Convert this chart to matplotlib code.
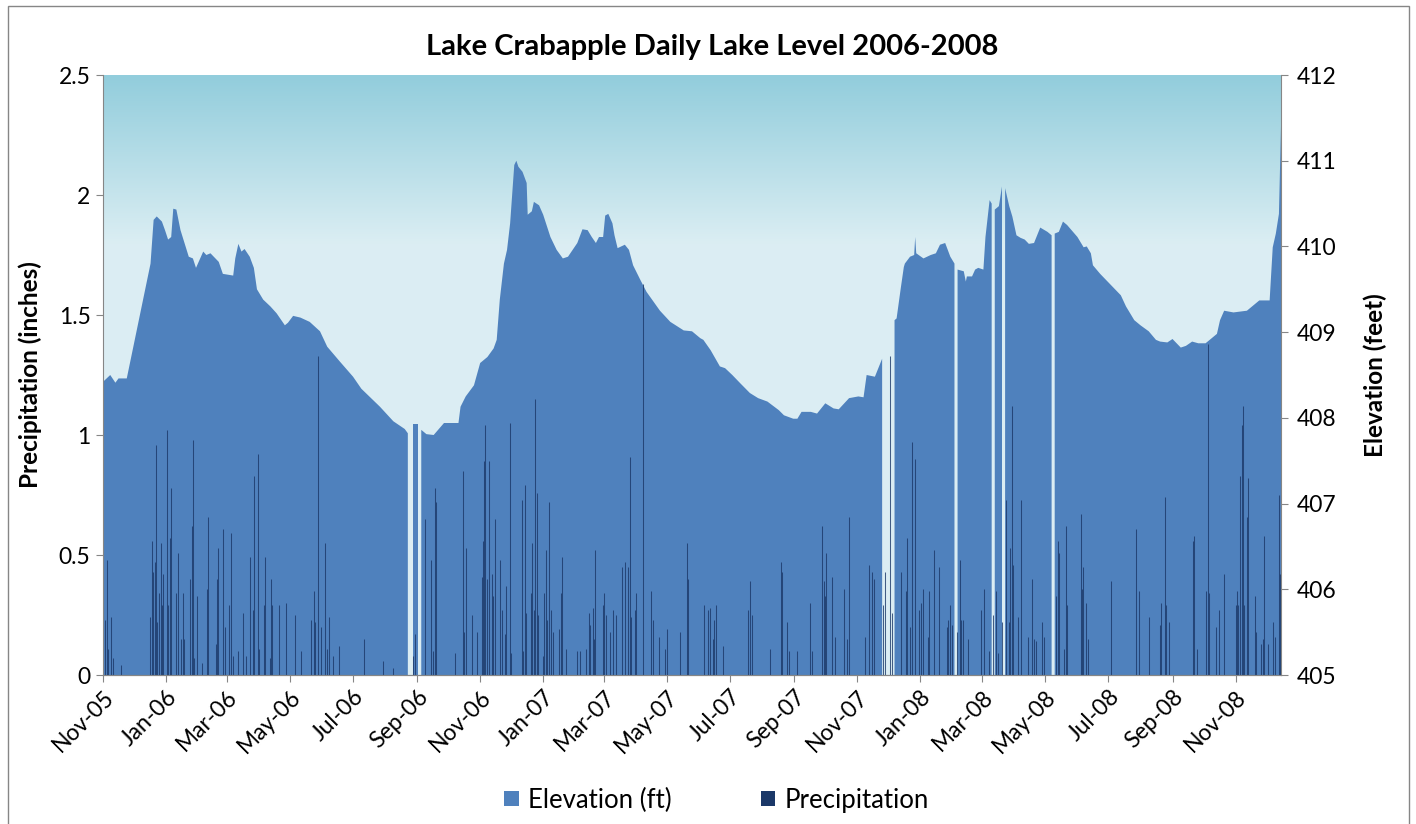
import numpy as np
import pandas as pd
import matplotlib
matplotlib.use("Agg")
import matplotlib.pyplot as plt
import matplotlib.dates as mdates
from matplotlib.patches import Patch, Rectangle
from matplotlib.ticker import FuncFormatter

plt.rcParams['font.family'] = ['Lato', 'DejaVu Sans']

nan = np.nan

# --- Elevation (ft); nan = missing day ---
elev_dates = [
    '2005-11-01', '2005-11-08', '2005-11-13', '2005-11-16', '2005-11-24', '2005-12-17',
    '2005-12-20', '2005-12-23', '2005-12-28', '2005-12-31', '2006-01-03', '2006-01-06',
    '2006-01-08', '2006-01-11', '2006-01-15', '2006-01-23', '2006-01-27', '2006-01-30',
    '2006-02-06', '2006-02-09', '2006-02-13', '2006-02-21', '2006-02-25', '2006-03-07',
    '2006-03-09', '2006-03-12', '2006-03-15', '2006-03-18', '2006-03-23', '2006-03-27',
    '2006-03-30', '2006-04-05', '2006-04-12', '2006-04-18', '2006-04-26', '2006-04-29',
    '2006-05-04', '2006-05-11', '2006-05-20', '2006-05-30', '2006-06-06', '2006-06-18',
    '2006-07-01', '2006-07-09', '2006-07-27', '2006-08-09', '2006-08-20', '2006-08-23',
    '2006-08-24', '2006-08-28', '2006-09-02', '2006-09-03', '2006-09-05', '2006-09-10',
    '2006-09-17', '2006-09-27', '2006-10-11', '2006-10-13', '2006-10-18', '2006-10-26',
    '2006-11-01', '2006-11-08', '2006-11-14', '2006-11-17', '2006-11-20', '2006-11-24',
    '2006-11-27', '2006-11-30', '2006-12-04', '2006-12-06', '2006-12-08', '2006-12-12',
    '2006-12-16', '2006-12-17', '2006-12-21', '2006-12-23', '2006-12-28', '2007-01-01',
    '2007-01-08', '2007-01-14', '2007-01-20', '2007-01-25', '2007-02-03', '2007-02-08',
    '2007-02-13', '2007-02-17', '2007-02-21', '2007-02-24', '2007-02-28', '2007-03-02',
    '2007-03-05', '2007-03-09', '2007-03-11', '2007-03-14', '2007-03-21', '2007-03-25',
    '2007-03-29', '2007-04-05', '2007-04-11', '2007-04-24', '2007-05-04', '2007-05-17',
    '2007-05-25', '2007-06-02', '2007-06-05', '2007-06-12', '2007-06-21', '2007-06-26',
    '2007-07-03', '2007-07-11', '2007-07-20', '2007-07-28', '2007-08-06', '2007-08-17',
    '2007-08-22', '2007-08-31', '2007-09-04', '2007-09-08', '2007-09-17', '2007-09-23',
    '2007-10-01', '2007-10-09', '2007-10-14', '2007-10-24', '2007-11-02', '2007-11-07',
    '2007-11-10', '2007-11-18', '2007-11-25', '2007-11-26', '2007-12-07', '2007-12-09',
    '2007-12-13', '2007-12-16', '2007-12-17', '2007-12-22', '2007-12-26', '2007-12-27',
    '2007-12-28', '2008-01-04', '2008-01-11', '2008-01-16', '2008-01-20', '2008-01-25',
    '2008-01-30', '2008-02-03', '2008-02-04', '2008-02-06', '2008-02-12', '2008-02-14',
    '2008-02-15', '2008-02-20', '2008-02-23', '2008-02-26', '2008-03-02', '2008-03-04',
    '2008-03-08', '2008-03-10', '2008-03-11', '2008-03-13', '2008-03-17', '2008-03-20',
    '2008-03-21', '2008-03-23', '2008-03-27', '2008-03-30', '2008-04-03', '2008-04-07',
    '2008-04-11', '2008-04-15', '2008-04-20', '2008-04-26', '2008-05-03', '2008-05-07',
    '2008-05-08', '2008-05-10', '2008-05-14', '2008-05-18', '2008-05-22', '2008-06-01',
    '2008-06-07', '2008-06-10', '2008-06-14', '2008-06-16', '2008-06-23', '2008-07-05',
    '2008-07-13', '2008-07-18', '2008-07-26', '2008-08-01', '2008-08-09', '2008-08-16',
    '2008-08-20', '2008-08-27', '2008-09-01', '2008-09-09', '2008-09-14', '2008-09-20',
    '2008-09-26', '2008-10-03', '2008-10-09', '2008-10-14', '2008-10-17', '2008-10-21',
    '2008-10-30', '2008-11-12', '2008-11-24', '2008-12-04', '2008-12-07', '2008-12-10',
    '2008-12-13', '2008-12-15',
]
elev_ft = [
    408.42, 408.50, 408.41, 408.46, 408.46, 409.80,
    410.31, 410.35, 410.29, 410.19, 410.08, 410.11,
    410.44, 410.43, 410.19, 409.88, 409.86, 409.75,
    409.94, 409.90, 409.92, 409.82, 409.68, 409.66,
    409.86, 410.03, 409.94, 409.97, 409.88, 409.75,
    409.50, 409.38, 409.30, 409.22, 409.08, 409.11,
    409.19, 409.17, 409.12, 409.01, 408.83, 408.66,
    408.48, 408.34, 408.13, 407.96, 407.87, 407.82,
    nan, 407.93, 407.93, nan, 407.86, 407.81,
    407.80, 407.94, 407.94, 408.13, 408.25, 408.38,
    408.64, 408.71, 408.81, 408.91, 409.38, 409.80,
    409.96, 410.27, 410.95, 411.00, 410.93, 410.87,
    410.74, 410.37, 410.41, 410.52, 410.48, 410.37,
    410.11, 409.96, 409.86, 409.88, 410.04, 410.20,
    410.19, 410.11, 410.04, 410.11, 410.11, 410.36,
    410.38, 410.27, 410.13, 409.98, 410.02, 409.96,
    409.78, 409.61, 409.47, 409.25, 409.12, 409.02,
    409.01, 408.93, 408.91, 408.79, 408.60, 408.58,
    408.50, 408.40, 408.29, 408.23, 408.19, 408.09,
    408.03, 407.99, 407.99, 408.07, 408.07, 408.05,
    408.17, 408.11, 408.10, 408.23, 408.25, 408.24,
    408.50, 408.48, 408.69, nan, 409.14, 409.16,
    409.51, 409.76, 409.80, 409.88, 409.90, 410.11,
    409.92, 409.86, 409.90, 409.92, 410.02, 410.04,
    409.88, 409.80, nan, 409.73, 409.71, 409.59,
    409.65, 409.65, 409.73, 409.75, 409.73, 410.11,
    410.54, 410.50, nan, 410.43, 410.47, 410.70,
    nan, 410.68, 410.47, 410.35, 410.13, 410.10,
    410.08, 410.03, 410.04, 410.22, 410.17, 410.13,
    nan, 410.15, 410.17, 410.29, 410.25, 410.11,
    409.99, 410.00, 409.92, 409.78, 409.68, 409.53,
    409.43, 409.30, 409.14, 409.08, 409.01, 408.91,
    408.89, 408.88, 408.92, 408.82, 408.84, 408.89,
    408.87, 408.87, 408.93, 408.98, 409.14, 409.25,
    409.23, 409.25, 409.37, 409.37, 409.99, 410.15,
    410.38, 411.40,
]

# --- Daily precipitation (inches), visible bars ---
precip_dates = [
    '2005-11-03', '2005-11-05', '2005-11-06', '2005-11-09', '2005-11-11', '2005-11-18', '2005-12-16', '2005-12-18',
    '2005-12-19', '2005-12-21', '2005-12-22', '2005-12-23', '2005-12-25', '2005-12-27', '2005-12-28', '2005-12-29',
    '2006-01-02', '2006-01-03', '2006-01-05', '2006-01-06', '2006-01-11', '2006-01-13', '2006-01-15', '2006-01-17',
    '2006-01-18', '2006-01-24', '2006-01-26', '2006-01-27', '2006-01-28', '2006-01-31', '2006-02-05', '2006-02-10',
    '2006-02-11', '2006-02-18', '2006-02-19', '2006-02-20', '2006-02-25', '2006-02-27', '2006-03-03', '2006-03-05',
    '2006-03-07', '2006-03-12', '2006-03-16', '2006-03-19', '2006-03-23', '2006-03-26', '2006-03-27', '2006-03-31',
    '2006-04-01', '2006-04-06', '2006-04-07', '2006-04-12', '2006-04-13', '2006-04-14', '2006-04-20', '2006-04-27',
    '2006-05-06', '2006-05-12', '2006-05-21', '2006-05-24', '2006-05-25', '2006-05-28', '2006-05-31', '2006-06-04',
    '2006-06-06', '2006-06-08', '2006-06-12', '2006-06-17', '2006-07-12', '2006-07-30', '2006-08-09', '2006-08-28',
    '2006-08-30', '2006-09-09', '2006-09-14', '2006-09-16', '2006-09-18', '2006-09-19', '2006-10-08', '2006-10-15',
    '2006-10-16', '2006-10-18', '2006-10-24', '2006-10-29', '2006-11-03', '2006-11-04', '2006-11-05', '2006-11-06',
    '2006-11-08', '2006-11-10', '2006-11-12', '2006-11-13', '2006-11-15', '2006-11-20', '2006-11-22', '2006-11-25',
    '2006-11-26', '2006-11-30', '2006-12-01', '2006-12-11', '2006-12-12', '2006-12-14', '2006-12-15', '2006-12-20',
    '2006-12-21', '2006-12-23', '2006-12-24', '2006-12-26', '2006-12-27', '2007-01-01', '2007-01-02', '2007-01-04',
    '2007-01-05', '2007-01-07', '2007-01-09', '2007-01-10', '2007-01-16', '2007-01-18', '2007-01-19', '2007-01-23',
    '2007-02-03', '2007-02-06', '2007-02-11', '2007-02-14', '2007-02-15', '2007-02-18', '2007-02-19', '2007-02-20',
    '2007-02-28', '2007-03-01', '2007-03-03', '2007-03-07', '2007-03-10', '2007-03-12', '2007-03-18', '2007-03-21',
    '2007-03-24', '2007-03-26', '2007-03-27', '2007-03-31', '2007-04-01', '2007-04-08', '2007-04-15', '2007-04-17',
    '2007-04-23', '2007-04-29', '2007-05-01', '2007-05-13', '2007-05-20', '2007-05-21', '2007-06-06', '2007-06-09',
    '2007-06-11', '2007-06-14', '2007-06-15', '2007-06-17', '2007-06-24', '2007-07-18', '2007-07-20', '2007-07-22',
    '2007-08-08', '2007-08-19', '2007-08-20', '2007-08-25', '2007-08-27', '2007-09-04', '2007-09-16', '2007-09-18',
    '2007-09-28', '2007-09-30', '2007-10-01', '2007-10-02', '2007-10-07', '2007-10-10', '2007-10-19', '2007-10-22',
    '2007-10-24', '2007-11-08', '2007-11-12', '2007-11-15', '2007-11-17', '2007-11-26', '2007-11-28', '2007-12-03',
    '2007-12-05', '2007-12-13', '2007-12-18', '2007-12-19', '2007-12-22', '2007-12-24', '2007-12-27', '2007-12-31',
    '2008-01-02', '2008-01-04', '2008-01-08', '2008-01-09', '2008-01-14', '2008-01-19', '2008-01-27', '2008-01-28',
    '2008-01-30', '2008-02-01', '2008-02-05', '2008-02-08', '2008-02-09', '2008-02-11', '2008-02-16', '2008-02-29',
    '2008-03-03', '2008-03-07', '2008-03-11', '2008-03-14', '2008-03-16', '2008-03-20', '2008-03-24', '2008-03-27',
    '2008-03-28', '2008-03-30', '2008-03-31', '2008-04-04', '2008-04-07', '2008-04-14', '2008-04-18', '2008-04-20',
    '2008-04-22', '2008-04-28', '2008-04-30', '2008-05-11', '2008-05-13', '2008-05-14', '2008-05-19', '2008-05-21',
    '2008-05-22', '2008-06-04', '2008-06-05', '2008-06-06', '2008-06-09', '2008-06-11', '2008-07-03', '2008-07-28',
    '2008-07-31', '2008-08-09', '2008-08-20', '2008-08-21', '2008-08-25', '2008-08-26', '2008-08-29', '2008-09-21',
    '2008-09-22', '2008-09-25', '2008-10-03', '2008-10-05', '2008-10-06', '2008-10-13', '2008-10-16', '2008-10-21',
    '2008-11-01', '2008-11-02', '2008-11-03', '2008-11-05', '2008-11-07', '2008-11-08', '2008-11-09', '2008-11-12',
    '2008-11-13', '2008-11-20', '2008-11-21', '2008-11-26', '2008-11-28', '2008-11-29', '2008-12-02', '2008-12-07',
    '2008-12-09', '2008-12-13', '2008-12-14',
]
precip_in = [
    0.23, 0.48, 0.11, 0.24, 0.07, 0.04, 0.24, 0.56,
    0.43, 0.47, 0.96, 0.22, 0.34, 0.55, 0.29, 0.42,
    1.02, 0.29, 0.57, 0.78, 0.34, 0.51, 0.15, 0.34,
    0.15, 0.40, 0.62, 0.98, 0.07, 0.33, 0.05, 0.36,
    0.66, 0.13, 0.40, 0.53, 0.61, 0.20, 0.29, 0.59,
    0.08, 0.10, 0.26, 0.08, 0.49, 0.27, 0.83, 0.92,
    0.11, 0.29, 0.49, 0.07, 0.40, 0.29, 0.29, 0.30,
    0.25, 0.10, 0.23, 0.35, 0.22, 1.33, 0.20, 0.55,
    0.11, 0.24, 0.08, 0.12, 0.15, 0.06, 0.03, 0.08,
    0.17, 0.65, 0.48, 0.10, 0.78, 0.72, 0.09, 0.85,
    0.18, 0.53, 0.25, 0.18, 0.41, 0.56, 0.89, 1.04,
    0.40, 0.89, 0.42, 0.33, 0.65, 0.48, 0.27, 0.17,
    0.37, 1.05, 0.09, 0.73, 0.10, 0.79, 0.26, 0.34,
    0.55, 0.27, 1.15, 0.76, 0.25, 0.08, 0.34, 0.52,
    0.23, 0.72, 0.27, 0.18, 0.19, 0.34, 0.49, 0.11,
    0.10, 0.10, 0.11, 0.26, 0.21, 0.28, 0.15, 0.52,
    0.29, 0.34, 0.25, 0.18, 0.27, 0.25, 0.45, 0.47,
    0.45, 0.91, 0.24, 0.27, 0.34, 1.63, 0.35, 0.23,
    0.16, 0.11, 0.19, 0.18, 0.55, 0.40, 0.29, 0.27,
    0.28, 0.15, 0.23, 0.29, 0.12, 0.27, 0.39, 0.25,
    0.11, 0.47, 0.43, 0.22, 0.10, 0.10, 0.30, 0.10,
    0.62, 0.39, 0.33, 0.51, 0.41, 0.16, 0.36, 0.15,
    0.66, 0.16, 0.46, 0.43, 0.40, 0.29, 0.43, 1.33,
    0.26, 0.43, 0.35, 0.57, 0.20, 0.97, 0.90, 0.27,
    0.30, 0.36, 0.16, 0.35, 0.52, 0.45, 0.20, 0.23,
    0.29, 0.21, 0.18, 0.48, 0.23, 0.23, 0.15, 0.27,
    0.36, 0.10, 0.25, 0.35, 0.09, 0.22, 0.73, 0.22,
    0.53, 1.12, 0.46, 0.24, 0.73, 0.16, 0.40, 0.15,
    0.14, 0.22, 0.16, 0.33, 0.56, 0.51, 0.11, 0.62,
    0.29, 0.67, 0.36, 0.45, 0.30, 0.15, 0.39, 0.61,
    0.35, 0.24, 0.21, 0.30, 0.74, 0.29, 0.22, 0.56,
    0.58, 0.11, 0.35, 1.38, 0.34, 0.20, 0.27, 0.42,
    0.29, 0.35, 0.29, 0.83, 1.04, 1.12, 0.29, 0.66,
    0.82, 0.33, 0.18, 0.13, 0.15, 0.58, 0.13, 0.22,
    0.16, 0.75, 0.42,
]

assert len(elev_dates) == len(elev_ft)
assert len(precip_dates) == len(precip_in)

elev_x = pd.to_datetime(elev_dates)
precip_x = pd.to_datetime(precip_dates)
x_start, x_end = pd.Timestamp('2005-11-01'), pd.Timestamp('2008-12-15')

ELEV_BLUE = '#4f81bd'
PRECIP_NAVY = '#1b3868'
GREY = '#868686'
TICK_FS = 16.5
LABEL_FS = 17.5

fig = plt.figure(figsize=(14.16, 8.24), dpi=100)
pos = [103 / 1416, 149 / 824, 1178 / 1416, 600 / 824]

# background gradient (darker teal at top, fading to pale blue)
bg = fig.add_axes(pos, zorder=0)
frac = np.linspace(0, 1, 256)
top_c = np.array([0.573, 0.804, 0.863])
low_c = np.array([0.859, 0.933, 0.953])
t = np.clip((frac - 0.72) / 0.28, 0, 1)[:, None]
grad = low_c * (1 - t) + top_c * t
bg.imshow(grad[:, None, :], aspect='auto', extent=[0, 1, 0, 1], origin='lower')
bg.set_xlim(0, 1)
bg.set_ylim(0, 1)
bg.axis('off')

# elevation area on the right axis
ax_e = fig.add_axes(pos, zorder=1)
ax_e.patch.set_visible(False)
ax_e.fill_between(elev_x, 405, elev_ft, color=ELEV_BLUE, linewidth=0)
ax_e.set_ylim(405, 412)
ax_e.yaxis.tick_right()
ax_e.yaxis.set_label_position('right')
ax_e.set_yticks(range(405, 413))
ax_e.set_ylabel('Elevation (feet)', fontsize=LABEL_FS, fontweight='bold', labelpad=20)

# precipitation bars on the left axis, drawn on top
ax_p = fig.add_axes(pos, zorder=2, sharex=ax_e)
ax_p.patch.set_visible(False)
ax_p.vlines(precip_x, 0, precip_in, color=PRECIP_NAVY, linewidth=0.75, alpha=0.8)
ax_p.set_ylim(0, 2.5)
ax_p.set_yticks([0, 0.5, 1, 1.5, 2, 2.5])
ax_p.yaxis.set_major_formatter(FuncFormatter(lambda v, _: f"{v:g}"))
ax_p.set_ylabel('Precipitation (inches)', fontsize=LABEL_FS, fontweight='bold', labelpad=12)

ax_p.set_xlim(x_start, x_end)
ax_p.xaxis.set_major_locator(mdates.MonthLocator(bymonth=[1, 3, 5, 7, 9, 11]))
ax_p.xaxis.set_major_formatter(mdates.DateFormatter('%b-%y'))
for lbl in ax_p.get_xticklabels():
    lbl.set_rotation(45)
    lbl.set_ha('right')
    lbl.set_va('top')
    lbl.set_rotation_mode('anchor')

ax_e.tick_params(axis='x', bottom=False, labelbottom=False)
ax_e.tick_params(axis='y', direction='out', length=5, color=GREY, labelsize=TICK_FS, pad=6)
ax_p.tick_params(axis='y', direction='out', length=5, color=GREY, labelsize=TICK_FS, pad=4)
ax_p.tick_params(axis='x', direction='out', length=5, color=GREY, labelsize=TICK_FS, pad=3)

for a in (ax_e, ax_p):
    a.spines['top'].set_visible(False)
    for side in ('left', 'right', 'bottom'):
        a.spines[side].set_color(GREY)
ax_p.spines['right'].set_visible(False)
ax_e.spines['left'].set_visible(False)

fig.text(0.503, 0.943, 'Lake Crabapple Daily Lake Level 2006-2008',
         ha='center', va='center', fontsize=21, fontweight='bold')

handles = [Patch(facecolor=ELEV_BLUE, edgecolor='none', label='Elevation (ft)'),
           Patch(facecolor=PRECIP_NAVY, edgecolor='none', label='Precipitation')]
fig.legend(handles=handles, loc='center', bbox_to_anchor=(0.506, 0.029), ncol=2,
           frameon=False, fontsize=18.5, handlelength=0.55, handleheight=0.55,
           handletextpad=0.35, columnspacing=3.5)

# chart area border
fig.patches.append(Rectangle((7.5 / 1416, -0.01), 1401 / 1416, 1.0 - 6 / 824 + 0.01,
                             transform=fig.transFigure, fill=False,
                             edgecolor=GREY, linewidth=1))

fig.savefig('out.png', dpi=100)
